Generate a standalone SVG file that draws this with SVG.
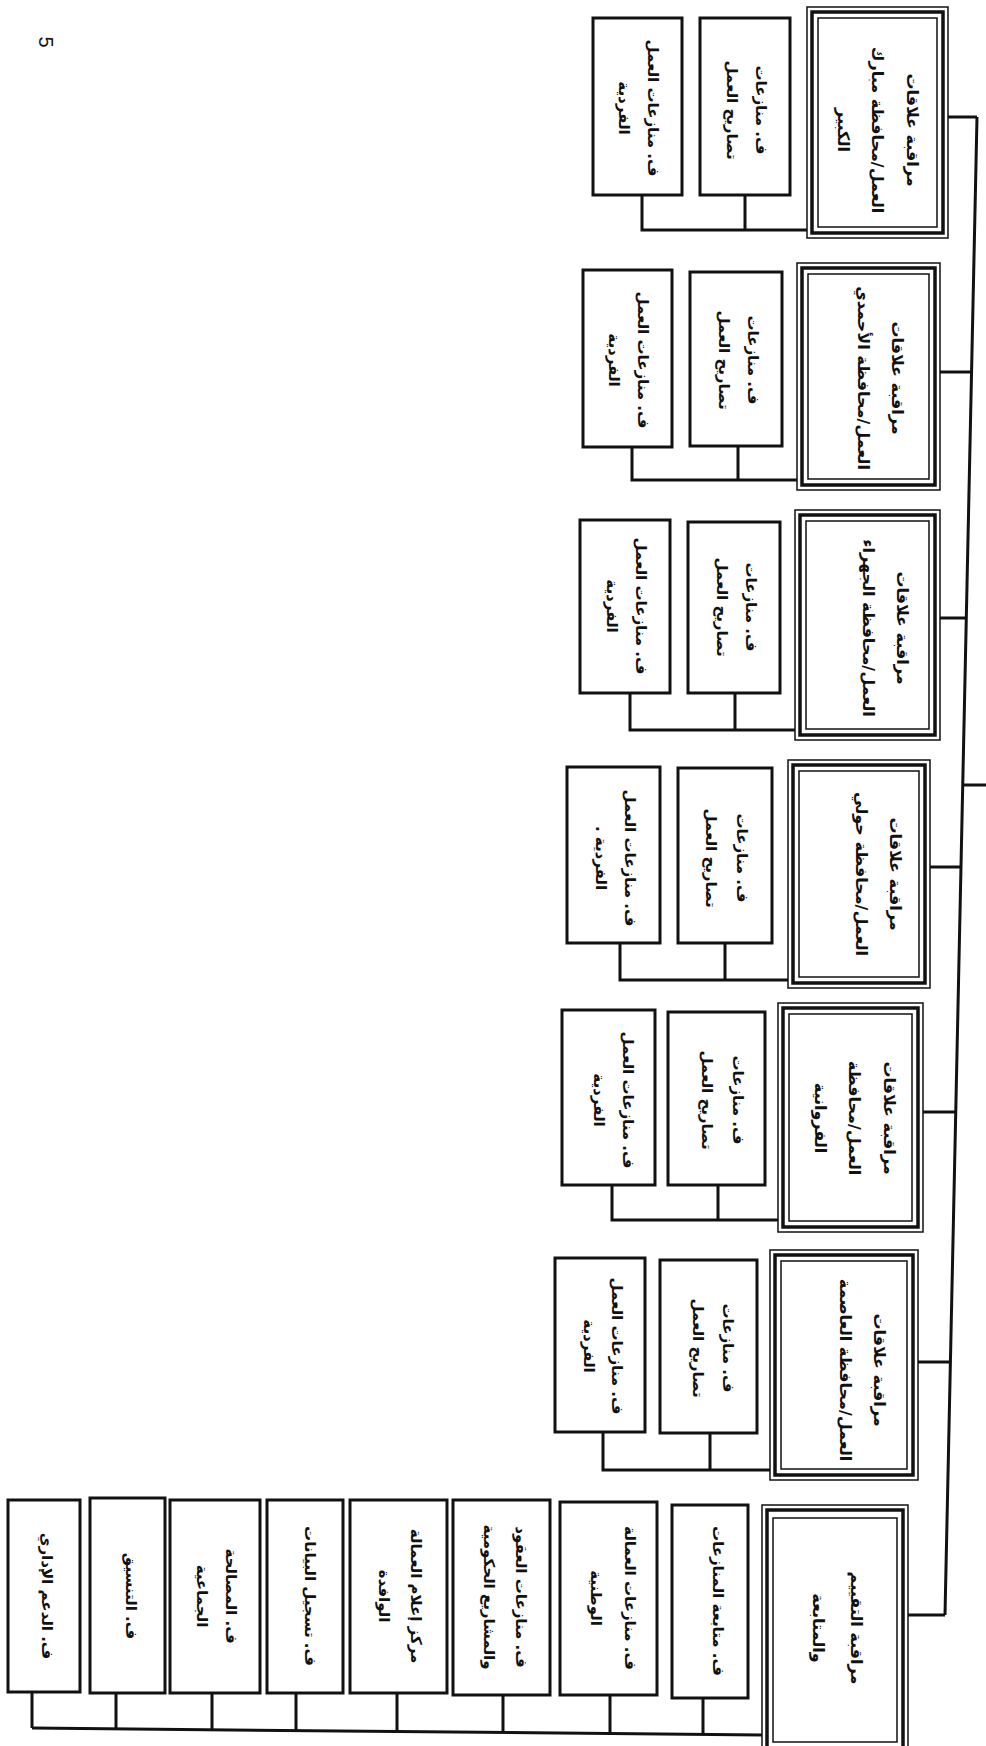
<svg xmlns="http://www.w3.org/2000/svg" width="986" height="1746" viewBox="0 0 986 1746">
<style>
.bx{fill:#fff;stroke:#111;stroke-width:3}
.f1{fill:#fff;stroke:#111;stroke-width:1.5}
.f2{fill:none;stroke:#111;stroke-width:3.5}
.f3{fill:none;stroke:#111;stroke-width:1.5}
.ln{fill:none;stroke:#111;stroke-width:3}
.t{font-family:"DejaVu Sans",sans-serif;font-weight:bold;fill:#111;text-anchor:middle;dominant-baseline:central;direction:rtl}
.tm{font-size:16px}
.tc{font-size:15px}
</style>
<rect width="986" height="1746" fill="#fff"/>
<text x="0" y="0" transform="translate(46,42) rotate(90)" style="font-family:'Liberation Sans',sans-serif;font-size:20px;fill:#111;text-anchor:middle;dominant-baseline:central">5</text>

<g id="connectors">
<path class="ln" d="M977,117 L945,1615"/>
<path class="ln" d="M948,117 H977"/>
<path class="ln" d="M940,372 H971.6"/>
<path class="ln" d="M940,618 H966.3"/>
<path class="ln" d="M930,867 H961"/>
<path class="ln" d="M962.7,785 H986"/>
<path class="ln" d="M923,1112 H955.7"/>
<path class="ln" d="M918,1362 H950.4"/>
<path class="ln" d="M908,1615 H945"/>
<path class="ln" d="M642,195 V230 H807 M745,195 V230"/>
<path class="ln" d="M632,447 V480 H797 M738,446 V480"/>
<path class="ln" d="M630,693 V730 H795 M735,693 V730"/>
<path class="ln" d="M620,943 V980 H788 M725,943 V980"/>
<path class="ln" d="M612,1185 V1220 H778 M718,1185 V1220"/>
<path class="ln" d="M603,1433 V1470 H770 M710,1433 V1470"/>
<path class="ln" d="M32,1728 L762,1735"/>
<path class="ln" d="M32,1692 V1728 M116,1693 V1729 M212,1693 V1730 M296,1693 V1730.5 M397,1693 V1731.5 M503,1695 V1732.5 M610,1695 V1733.5 M703,1698 V1734.4"/>
</g>

<g id="g1-main">
<rect class="f1" x="807" y="7" width="141" height="231"/>
<rect class="f2" x="812" y="12" width="131" height="221"/>
<rect class="f3" x="818" y="18" width="119" height="209"/>
<text class="t tm" transform="translate(912,130) rotate(90)">مراقبة علاقات</text>
<text class="t tm" transform="translate(877,130) rotate(90)">العمل/محافظة مبارك</text>
<text class="t tm" transform="translate(843,130) rotate(90)">الكبير</text>
</g>
<g id="g1-c1"><rect class="bx" x="700" y="18" width="90" height="177"/>
<text class="t tc" transform="translate(761,110) rotate(90)">ف. منازعات</text>
<text class="t tc" transform="translate(732,110) rotate(90)">تصاريح العمل</text></g>
<g id="g1-c2"><rect class="bx" x="593" y="18" width="89" height="177"/>
<text class="t tc" transform="translate(653,108) rotate(90)">ف. منازعات العمل</text>
<text class="t tc" transform="translate(624,108) rotate(90)">الفردية</text></g>

<g id="g2-main">
<rect class="f1" x="797" y="263" width="143" height="227"/>
<rect class="f2" x="802" y="268" width="133" height="217"/>
<rect class="f3" x="808" y="274" width="121" height="205"/>
<text class="t tm" transform="translate(897,378) rotate(90)">مراقبة علاقات</text>
<text class="t tm" transform="translate(863,378) rotate(90)">العمل/محافظة الأحمدي</text>
</g>
<g id="g2-c1"><rect class="bx" x="690" y="272" width="92" height="174"/>
<text class="t tc" transform="translate(753,360) rotate(90)">ف. منازعات</text>
<text class="t tc" transform="translate(724,360) rotate(90)">تصاريح العمل</text></g>
<g id="g2-c2"><rect class="bx" x="583" y="270" width="89" height="177"/>
<text class="t tc" transform="translate(643,360) rotate(90)">ف. منازعات العمل</text>
<text class="t tc" transform="translate(614,360) rotate(90)">الفردية</text></g>

<g id="g3-main">
<rect class="f1" x="795" y="510" width="145" height="230"/>
<rect class="f2" x="800" y="515" width="135" height="220"/>
<rect class="f3" x="806" y="521" width="123" height="208"/>
<text class="t tm" transform="translate(902,628) rotate(90)">مراقبة علاقات</text>
<text class="t tm" transform="translate(868,628) rotate(90)">العمل/محافظة الجهراء</text>
</g>
<g id="g3-c1"><rect class="bx" x="688" y="522" width="92" height="171"/>
<text class="t tc" transform="translate(751,607) rotate(90)">ف. منازعات</text>
<text class="t tc" transform="translate(722,607) rotate(90)">تصاريح العمل</text></g>
<g id="g3-c2"><rect class="bx" x="580" y="520" width="90" height="173"/>
<text class="t tc" transform="translate(641,606) rotate(90)">ف. منازعات العمل</text>
<text class="t tc" transform="translate(612,606) rotate(90)">الفردية</text></g>

<g id="g4-main">
<rect class="f1" x="788" y="760" width="142" height="228"/>
<rect class="f2" x="793" y="765" width="132" height="218"/>
<rect class="f3" x="799" y="771" width="120" height="206"/>
<text class="t tm" transform="translate(895,874) rotate(90)">مراقبة علاقات</text>
<text class="t tm" transform="translate(861,874) rotate(90)">العمل/محافظة حولي</text>
</g>
<g id="g4-c1"><rect class="bx" x="678" y="768" width="94" height="175"/>
<text class="t tc" transform="translate(742,858) rotate(90)">ف. منازعات</text>
<text class="t tc" transform="translate(711,858) rotate(90)">تصاريح العمل</text></g>
<g id="g4-c2"><rect class="bx" x="567" y="767" width="93" height="176"/>
<text class="t tc" transform="translate(630,858) rotate(90)">ف. منازعات العمل</text>
<text class="t tc" transform="translate(601,858) rotate(90)">الفردية .</text></g>

<g id="g5-main">
<rect class="f1" x="778" y="1003" width="145" height="229"/>
<rect class="f2" x="783" y="1008" width="135" height="219"/>
<rect class="f3" x="789" y="1014" width="123" height="207"/>
<text class="t tm" transform="translate(889,1118) rotate(90)">مراقبة علاقات</text>
<text class="t tm" transform="translate(854,1118) rotate(90)">العمل/محافظة</text>
<text class="t tm" transform="translate(820,1118) rotate(90)">الفروانية</text>
</g>
<g id="g5-c1"><rect class="bx" x="668" y="1012" width="97" height="173"/>
<text class="t tc" transform="translate(738,1100) rotate(90)">ف. منازعات</text>
<text class="t tc" transform="translate(707,1100) rotate(90)">تصاريح العمل</text></g>
<g id="g5-c2"><rect class="bx" x="562" y="1010" width="93" height="175"/>
<text class="t tc" transform="translate(628,1100) rotate(90)">ف. منازعات العمل</text>
<text class="t tc" transform="translate(599,1100) rotate(90)">الفردية</text></g>

<g id="g6-main">
<rect class="f1" x="770" y="1250" width="148" height="230"/>
<rect class="f2" x="775" y="1255" width="138" height="220"/>
<rect class="f3" x="781" y="1261" width="126" height="208"/>
<text class="t tm" transform="translate(879,1370) rotate(90)">مراقبة علاقات</text>
<text class="t tm" transform="translate(845,1370) rotate(90)">العمل/محافظة العاصمة</text>
</g>
<g id="g6-c1"><rect class="bx" x="660" y="1260" width="97" height="173"/>
<text class="t tc" transform="translate(728,1348) rotate(90)">ف. منازعات</text>
<text class="t tc" transform="translate(698,1348) rotate(90)">تصاريح العمل</text></g>
<g id="g6-c2"><rect class="bx" x="555" y="1258" width="90" height="174"/>
<text class="t tc" transform="translate(617,1346) rotate(90)">ف. منازعات العمل</text>
<text class="t tc" transform="translate(589,1346) rotate(90)">الفردية</text></g>

<g id="g7-main">
<rect class="f1" x="762" y="1505" width="146" height="255"/>
<rect class="f2" x="767" y="1510" width="136" height="245"/>
<rect class="f3" x="773" y="1518" width="124" height="224"/>
<text class="t tm" transform="translate(856,1628) rotate(90)">مراقبة التقييم</text>
<text class="t tm" transform="translate(818,1628) rotate(90)">والمتابعة</text>
</g>
<g id="g7-h"><rect class="bx" x="672" y="1505" width="76" height="193"/>
<text class="t tc" transform="translate(718,1601) rotate(90)">ف. متابعة المنازعات</text></g>
<g id="g7-g"><rect class="bx" x="560" y="1502" width="97" height="193"/>
<text class="t tc" transform="translate(630,1598) rotate(90)">ف. منازعات العمالة</text>
<text class="t tc" transform="translate(596,1598) rotate(90)">الوطنية</text></g>
<g id="g7-f"><rect class="bx" x="453" y="1500" width="97" height="195"/>
<text class="t tc" transform="translate(521,1597) rotate(90)">ف. منازعات العقود</text>
<text class="t tc" transform="translate(489,1597) rotate(90)">والمشاريع الحكومية</text></g>
<g id="g7-e"><rect class="bx" x="350" y="1500" width="97" height="193"/>
<text class="t tc" transform="translate(416,1596) rotate(90)">مركز إعلام العمالة</text>
<text class="t tc" transform="translate(384,1596) rotate(90)">الوافدة</text></g>
<g id="g7-d"><rect class="bx" x="267" y="1500" width="76" height="193"/>
<text class="t tc" transform="translate(310,1596) rotate(90)">ف. تسجيل البيانات</text></g>
<g id="g7-c"><rect class="bx" x="170" y="1500" width="90" height="193"/>
<text class="t tc" transform="translate(231,1596) rotate(90)">ف. المصالحة</text>
<text class="t tc" transform="translate(202,1596) rotate(90)">الجماعية</text></g>
<g id="g7-b"><rect class="bx" x="90" y="1498" width="75" height="195"/>
<text class="t tc" transform="translate(131,1596) rotate(90)">ف. التنسيق</text></g>
<g id="g7-a"><rect class="bx" x="8" y="1500" width="72" height="192"/>
<text class="t tc" transform="translate(47,1596) rotate(90)">ف. الدعم الإداري</text></g>
</svg>
